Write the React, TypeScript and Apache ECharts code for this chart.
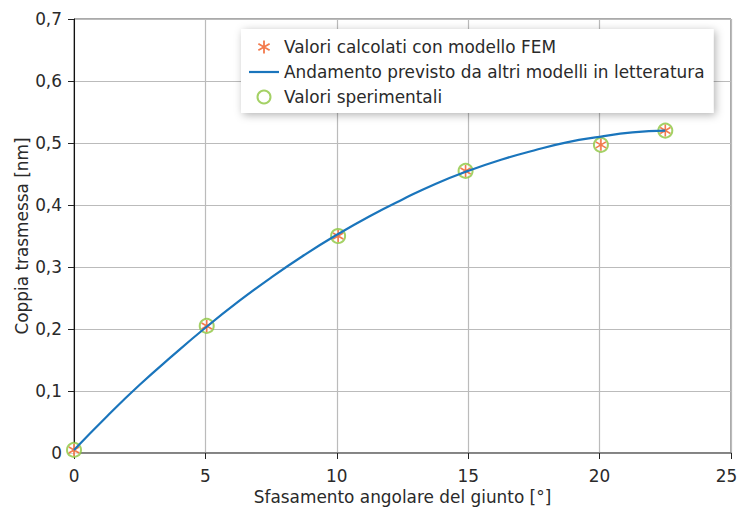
import React, { useEffect, useRef } from "react";
import * as echarts from "echarts";

const femX = [0, 5.05, 10.05, 14.9, 20.05, 22.5];
const femY = [0.005, 0.205, 0.35, 0.455, 0.497, 0.52];
const expX = [0, 5.05, 10.05, 14.9, 20.05, 22.5];
const expY = [0.005, 0.205, 0.35, 0.455, 0.497, 0.52];
const lineX = [0, 1.25, 2.5, 3.75, 5, 6.25, 7.5, 8.75, 10, 11.25, 12.5, 13.75, 15, 16.25, 17.5, 18.75, 20, 21.25, 22.5];
const lineY = [0.005, 0.059, 0.11, 0.157, 0.202, 0.244, 0.283, 0.319, 0.352, 0.382, 0.409, 0.434, 0.455, 0.473, 0.488, 0.501, 0.51, 0.517, 0.52];

const nameFem = "Valori calcolati con modello FEM";
const nameLine = "Andamento previsto da altri modelli in letteratura";
const nameExp = "Valori sperimentali";

const asterisk =
  "path://M-0.14,-1L0.14,-1L0.14,1L-0.14,1Z M0.796,-0.621L0.936,-0.379L-0.796,0.621L-0.936,0.379Z M-0.936,-0.379L-0.796,-0.621L0.936,0.379L0.796,0.621Z";
const lineIcon = "path://M0,0H30V2.2H0Z";

const FONT = "'DejaVu Sans', Verdana, sans-serif";
const FS = 16.9;
const TXT = "#2a2a2a";

export default function App() {
  const ref = useRef<HTMLDivElement>(null);
  useEffect(() => {
    const chart = echarts.init(ref.current!, undefined, { renderer: "svg" });
    const zip = (xs: number[], ys: number[]) => xs.map((x, i) => [x, ys[i]]);
    chart.setOption({
      animation: false,
      textStyle: { fontFamily: FONT },
      grid: {
        left: 74,
        right: 7,
        top: 19,
        bottom: 54,
        outerBoundsMode: "none",
        containLabel: false,
        show: true,
        borderColor: "#555",
        borderWidth: 1,
        backgroundColor: "transparent",
      },
      legend: {
        orient: "vertical",
        left: 241,
        top: 29,
        data: [
          { name: nameFem },
          { name: nameLine, icon: lineIcon },
          { name: nameExp },
        ],
        backgroundColor: "#fff",
        shadowBlur: 8,
        shadowColor: "rgba(0,0,0,0.3)",
        shadowOffsetX: 2,
        shadowOffsetY: 2,
        padding: [8, 9, 6, 8],
        itemGap: 5,
        itemWidth: 30,
        itemHeight: 13,
        textStyle: { fontSize: FS, color: TXT, fontFamily: FONT, lineHeight: 20, padding: [0, 0, 0, 0] },
      },
      xAxis: {
        type: "value",
        min: 0,
        max: 25,
        interval: 5,
        name: "Sfasamento angolare del giunto [°]",
        nameLocation: "middle",
        nameGap: 36,
        nameMoveOverlap: false,
        nameTextStyle: { fontSize: FS, color: TXT, fontFamily: FONT, lineHeight: 16 },
        axisLine: { show: true, lineStyle: { color: "#777", width: 1.5 } },
        axisTick: { show: true, length: 6, lineStyle: { color: "#222" } },
        axisLabel: {
          fontSize: FS,
          color: TXT,
          margin: 15,
          lineHeight: 16,
          fontFamily: FONT,
          formatter: (v: number) => (v === 25 ? "{r|25}" : String(v)),
          rich: { r: { fontSize: FS, color: TXT, fontFamily: FONT, lineHeight: 16, padding: [0, 9, 0, 0] } },
        },
        splitLine: { show: true, lineStyle: { color: "#bbb", width: 1.2 } },
      },
      yAxis: {
        type: "value",
        min: 0,
        max: 0.7,
        interval: 0.1,
        name: "Coppia trasmessa [nm]",
        nameLocation: "middle",
        nameGap: 44,
        nameMoveOverlap: false,
        nameTextStyle: { fontSize: FS, color: TXT, fontFamily: FONT },
        axisLine: { show: true, lineStyle: { color: "#111", width: 1 } },
        axisTick: { show: true, length: 6, lineStyle: { color: "#222" } },
        axisLabel: {
          fontSize: FS,
          color: TXT,
          margin: 12,
          fontFamily: FONT,
          formatter: (v: number) => (v === 0 ? "0" : v.toFixed(1).replace(".", ",")),
        },
        splitLine: { show: true, lineStyle: { color: "#bbb", width: 1.2 } },
      },
      series: [
        {
          name: nameExp,
          type: "scatter",
          data: zip(expX, expY),
          symbol: "emptyCircle",
          symbolSize: 14,
          itemStyle: { color: "#8dc63f", borderColor: "#8dc63f", borderWidth: 2.4 },
          z: 2,
        },
        {
          name: nameFem,
          type: "scatter",
          data: zip(femX, femY),
          symbol: asterisk,
          symbolSize: [11, 12],
          itemStyle: { color: "#f05a22" },
          z: 3,
        },
        {
          name: nameLine,
          type: "line",
          data: zip(lineX, lineY),
          smooth: true,
          symbol: "none",
          lineStyle: { color: "#1a75bc", width: 2.2 },
          itemStyle: { color: "#1a75bc" },
          z: 4,
        },
      ],
    });
    return () => chart.dispose();
  }, []);
  return (
    <div
      ref={ref}
      style={{ position: "fixed", left: 0, top: 0, width: 738, height: 507, background: "#fff" }}
    />
  );
}
